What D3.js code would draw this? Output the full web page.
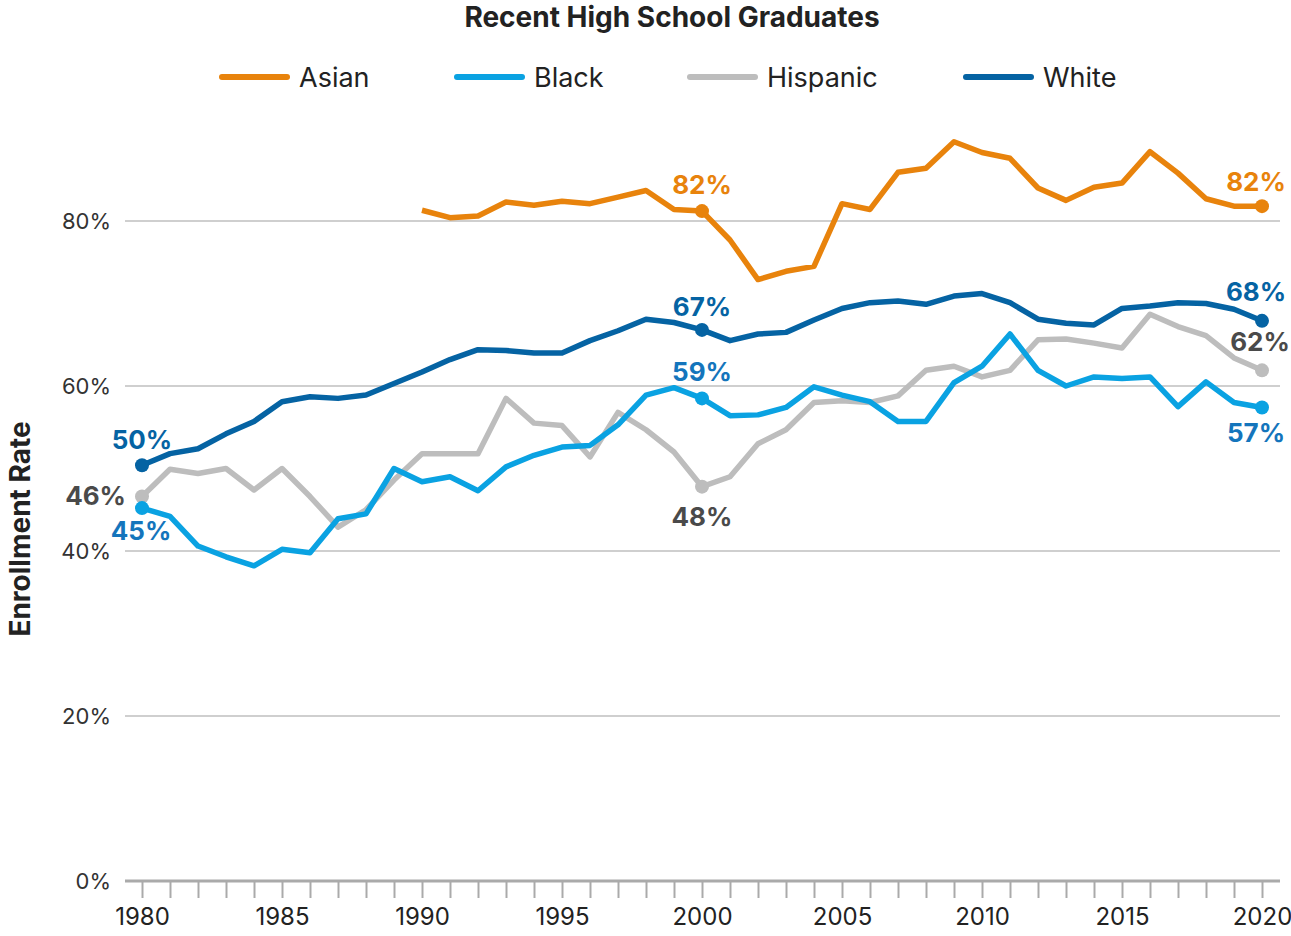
<!DOCTYPE html>
<html>
<head>
<meta charset="utf-8">
<script src="https://cdn.jsdelivr.net/npm/d3@7"></script>
<style>
  body { margin: 0; background: #fff; }
  svg { font-family: Inter, Roboto, "Noto Sans", sans-serif; }
</style>
</head>
<body>
<svg id="chart"></svg>
<script>
// Data (enrollment rate, %)
const years = d3.range(1980, 2021);
const asian = [null, null, null, null, null, null, null, null, null, null,
  81.3, 80.4, 80.6, 82.3, 81.9, 82.4, 82.1, 82.9, 83.7, 81.4,
  81.2, 77.7, 72.9, 73.9, 74.5, 82.1, 81.4, 85.9, 86.4, 89.6,
  88.3, 87.6, 84.0, 82.5, 84.1, 84.6, 88.4, 85.8, 82.7, 81.8, 81.8];
const black = [45.2, 44.2, 40.6, 39.3, 38.2, 40.2, 39.8, 43.9, 44.5, 50.0,
  48.4, 49.0, 47.3, 50.2, 51.6, 52.6, 52.8, 55.3, 58.9, 59.8,
  58.5, 56.4, 56.5, 57.4, 59.9, 58.9, 58.1, 55.7, 55.7, 60.4,
  62.4, 66.3, 61.9, 60.0, 61.1, 60.9, 61.1, 57.5, 60.5, 58.0, 57.4];
const hispanic = [46.6, 49.9, 49.4, 50.0, 47.4, 50.0, 46.6, 42.9, 45.0, 48.6,
  51.8, 51.8, 51.8, 58.5, 55.5, 55.2, 51.4, 56.8, 54.7, 52.0,
  47.8, 49.0, 53.0, 54.7, 58.0, 58.2, 58.0, 58.8, 61.9, 62.4,
  61.1, 61.9, 65.6, 65.7, 65.2, 64.6, 68.7, 67.2, 66.1, 63.4, 61.9];
const white = [50.4, 51.8, 52.4, 54.2, 55.7, 58.1, 58.7, 58.5, 58.9, 60.3,
  61.7, 63.2, 64.4, 64.3, 64.0, 64.0, 65.5, 66.7, 68.1, 67.7,
  66.8, 65.5, 66.3, 66.5, 68.0, 69.4, 70.1, 70.3, 69.9, 70.9,
  71.2, 70.1, 68.1, 67.6, 67.4, 69.4, 69.7, 70.1, 70.0, 69.3, 67.9];

const seriesNames = ['Asian', 'Black', 'Hispanic', 'White'];
const yTicks = [0, 20, 40, 60, 80];
const xTickLabels = [1980, 1985, 1990, 1995, 2000, 2005, 2010, 2015, 2020];
const labelYears = [1980, 2000, 2020];
// value labels as printed on the chart: [series, year, text]
const valueLabels = [
  ['Asian', 2000, '82%'], ['Asian', 2020, '82%'],
  ['White', 1980, '50%'], ['White', 2000, '67%'], ['White', 2020, '68%'],
  ['Black', 1980, '45%'], ['Black', 2000, '59%'], ['Black', 2020, '57%'],
  ['Hispanic', 1980, '46%'], ['Hispanic', 2000, '48%'], ['Hispanic', 2020, '62%']
];

const colors = { Asian: '#E8830C', Black: '#0AA2E2', Hispanic: '#BDBDBD', White: '#0563A3' };
const labelColors = { Asian: '#E8830C', Black: '#1475BC', Hispanic: '#4A4A4A', White: '#0563A3' };

const W = 1291, H = 936;
const svg = d3.select('#chart').attr('width', W).attr('height', H);

const x = d3.scaleLinear().domain([1980, 2020]).range([142, 1262]);
const y = d3.scaleLinear().domain([0, 80]).range([881, 221]);

// Title
svg.append('text')
  .attr('x', 672).attr('y', 27)
  .attr('text-anchor', 'middle')
  .attr('font-size', 28).attr('font-weight', 700).attr('fill', '#222')
  .text('Recent High School Graduates');

// Legend
const legendX = [222, 457, 690, 966];
seriesNames.forEach((name, i) => {
  const g = svg.append('g').attr('transform', `translate(${legendX[i]},77)`);
  g.append('line').attr('x1', 0).attr('x2', 65).attr('y1', 0).attr('y2', 0)
    .attr('stroke', colors[name]).attr('stroke-width', 6).attr('stroke-linecap', 'round');
  g.append('text').attr('x', 77).attr('y', 10)
    .attr('font-size', 27).attr('fill', '#222').text(name);
});

// Gridlines + y labels
svg.append('g').selectAll('line').data(yTicks.filter(d => d > 0)).enter().append('line')
  .attr('x1', 125).attr('x2', 1280)
  .attr('y1', d => y(d)).attr('y2', d => y(d))
  .attr('stroke', '#cfcfcf').attr('stroke-width', 2);

svg.append('g').selectAll('text').data(yTicks).enter().append('text')
  .attr('x', 111).attr('y', d => y(d) + 8)
  .attr('text-anchor', 'end').attr('font-size', 22).attr('fill', '#333')
  .text(d => d + '%');

// Y axis title
svg.append('text')
  .attr('transform', 'translate(30,529) rotate(-90)')
  .attr('text-anchor', 'middle')
  .attr('font-size', 28).attr('font-weight', 700).attr('fill', '#222')
  .text('Enrollment Rate');

// X axis
const xAxis = svg.append('g').attr('transform', `translate(0,${y(0)})`)
  .call(d3.axisBottom(x).tickValues(years).tickSize(17).tickFormat(d => xTickLabels.includes(d) ? d : ''));
xAxis.select('.domain').remove();
xAxis.selectAll('.tick line').attr('stroke', '#aaa').attr('stroke-width', 2);
xAxis.selectAll('.tick text').attr('font-size', 24).attr('fill', '#222').attr('dy', '1.0em')
  .attr('font-family', 'Inter, Roboto, sans-serif');
svg.append('line').attr('x1', 125).attr('x2', 1280).attr('y1', y(0)).attr('y2', y(0))
  .attr('stroke', '#aaa').attr('stroke-width', 3);

// Lines
const seriesData = { Asian: asian, Black: black, Hispanic: hispanic, White: white };
const drawOrder = ['Hispanic', 'Black', 'White', 'Asian'];
const line = d3.line()
  .defined(d => d.v != null)
  .x(d => x(d.year)).y(d => y(d.v));

drawOrder.forEach(name => {
  const pts = years.map((yr, i) => ({ year: yr, v: seriesData[name][i] }));
  svg.append('path').datum(pts)
    .attr('fill', 'none').attr('stroke', colors[name]).attr('stroke-width', 5.5)
    .attr('stroke-linejoin', 'round')
    .attr('d', line);
  svg.append('g').selectAll('circle')
    .data(pts.filter(d => labelYears.includes(d.year) && d.v != null))
    .enter().append('circle')
    .attr('cx', d => x(d.year)).attr('cy', d => y(d.v)).attr('r', 7)
    .attr('fill', colors[name]);
});

// label offsets from the dot: [dx, dy of text centre, anchor]
const labelOffsets = {
  'Asian-2000': [0, -26, 'middle'], 'Asian-2020': [-6, -24, 'middle'],
  'White-1980': [0, -25, 'middle'], 'White-2000': [0, -23, 'middle'], 'White-2020': [-6, -29, 'middle'],
  'Black-1980': [-1, 23, 'middle'], 'Black-2000': [0, -26, 'middle'], 'Black-2020': [-6, 26, 'middle'],
  'Hispanic-1980': [-16, -1, 'end'], 'Hispanic-2000': [0, 30, 'middle'], 'Hispanic-2020': [-2, -28, 'middle']
};
svg.append('g').selectAll('text').data(valueLabels).enter().append('text')
  .each(function (d) {
    const o = labelOffsets[d[0] + '-' + d[1]];
    const v = seriesData[d[0]][years.indexOf(d[1])];
    d3.select(this)
      .attr('x', x(d[1]) + o[0])
      .attr('y', y(v) + o[1] + 9)
      .attr('text-anchor', o[2]);
  })
  .attr('font-size', 26).attr('font-weight', 700)
  .attr('fill', d => labelColors[d[0]])
  .text(d => d[2]);
</script>
</body>
</html>
